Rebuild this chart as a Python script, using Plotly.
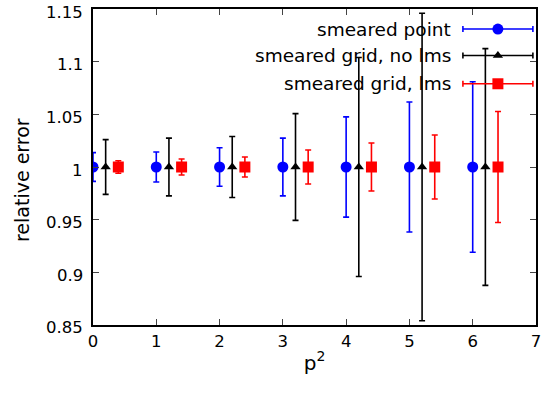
import plotly.graph_objects as go

# Data
p2 = [0, 1, 2, 3, 4, 5, 6]
offsets = {"smeared point": 0.0, "smeared grid, no lms": 0.2, "smeared grid, lms": 0.4}
rel_point = [1, 1, 1, 1, 1, 1, 1]
err_point = [0.0137, 0.0142, 0.0183, 0.0274, 0.0476, 0.0618, 0.081]
rel_nolms = [1, 1, 1, 1, 1, 1, 1]
err_nolms = [0.026, 0.0274, 0.029, 0.0507, 0.104, 0.146, 0.1125]
rel_lms = [1, 1, 1, 1, 1, 1, 1]
err_lms = [0.006, 0.0076, 0.0095, 0.0162, 0.0228, 0.0304, 0.0527]
yticks = [0.85, 0.9, 0.95, 1.0, 1.05, 1.1, 1.15]
yticktext = ["0.85", "0.9", "0.95", "1", "1.05", "1.1", "1.15"]
xticks = [0, 1, 2, 3, 4, 5, 6, 7]

series = [
    ("smeared point", rel_point, err_point, "#0000ff", "circle", 11),
    ("smeared grid, no lms", rel_nolms, err_nolms, "#000000", "triangle-up", 9),
    ("smeared grid, lms", rel_lms, err_lms, "#ff0000", "square", 11),
]

FONT = "DejaVu Sans, Liberation Sans, Arial, sans-serif"
fig = go.Figure()

# legend rows (paper-like overlay axis)
leg_y = [0.9366, 0.853, 0.7634]
for (name, ys, errs, col, sym, sz), ly in zip(series, leg_y):
    fig.add_trace(go.Scatter(
        x=[0.914], y=[ly], xaxis="x2", yaxis="y2", mode="markers",
        marker=dict(color=col, symbol=sym, size=sz),
        error_x=dict(type="data", array=[0.079], color=col, thickness=1.6, width=3),
        showlegend=False, hoverinfo="skip"))
    fig.add_annotation(x=0.812, y=ly, xref="paper", yref="paper", text=name,
                       showarrow=False, xanchor="right", yanchor="middle",
                       font=dict(family=FONT, size=18.5, color="black"))

for name, ys, errs, col, sym, sz in series:
    off = offsets[name]
    fig.add_trace(go.Scatter(
        x=[v + off for v in p2], y=ys, mode="markers", name=name,
        marker=dict(color=col, symbol=sym, size=sz),
        error_y=dict(type="data", array=errs, color=col, thickness=1.6, width=3),
        showlegend=False))

# y tick labels (slightly lowered, gnuplot style)
for v, t in zip(yticks, yticktext):
    fig.add_annotation(x=0, xref="paper", y=v, yref="y", text=t, showarrow=False,
                       xanchor="right", yanchor="middle", xshift=-8, yshift=-3,
                       font=dict(family=FONT, size=16.5, color="black"))

# y-axis title
fig.add_annotation(x=-0.160, y=0.459, xref="paper", yref="paper", text="relative error",
                   textangle=-90, showarrow=False, xanchor="center", yanchor="middle",
                   font=dict(family=FONT, size=19, color="black"))

fig.update_layout(
    width=548, height=395,
    margin=dict(l=93, r=12, t=9, b=70),
    paper_bgcolor="white", plot_bgcolor="white",
    font=dict(family=FONT, size=16, color="black"),
    xaxis=dict(range=[0, 7.0001], tickvals=xticks, ticks="inside", ticklen=6,
               tickfont=dict(size=16.5), ticklabeloverflow="allow", automargin=False,
               showline=True, linecolor="black", linewidth=1.5, mirror="ticks",
               showgrid=False, zeroline=False,
               title=dict(text="p<sup>2</sup>", font=dict(size=20), standoff=6)),
    yaxis=dict(range=[0.8499, 1.1501], tickvals=yticks, showticklabels=False,
               ticks="inside", ticklen=6, automargin=False,
               showline=True, linecolor="black", linewidth=1.5, mirror="ticks",
               showgrid=False, zeroline=False),
    xaxis2=dict(range=[0, 1], overlaying="x", visible=False),
    yaxis2=dict(range=[0, 1], overlaying="y", visible=False),
)

fig.write_html("out.html")
